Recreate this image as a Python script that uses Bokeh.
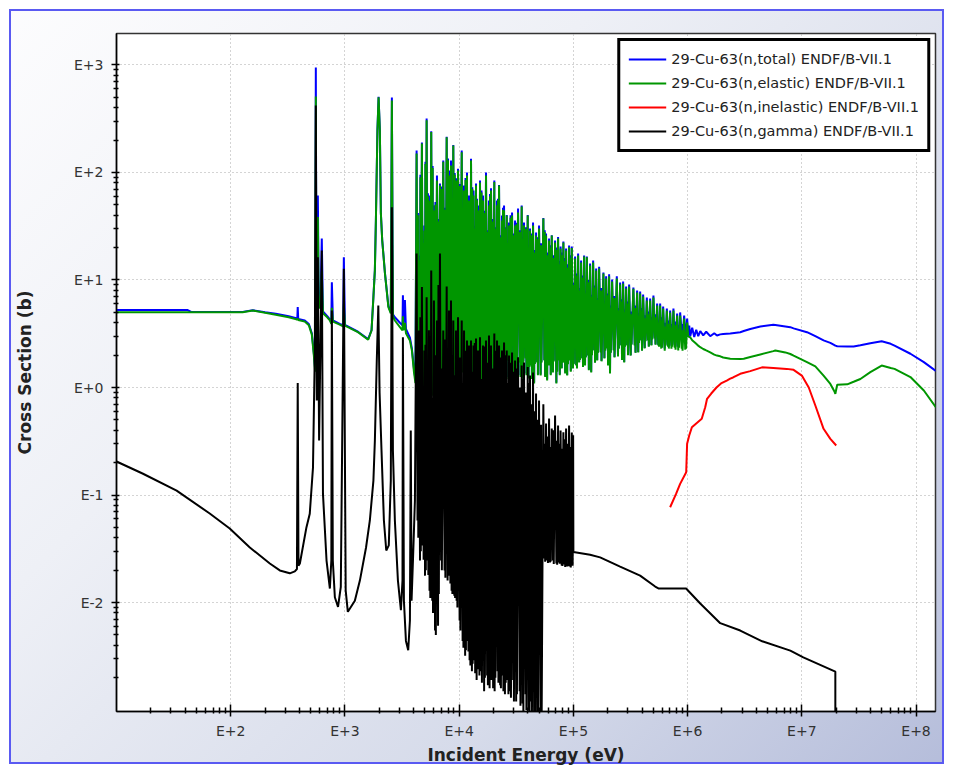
from bokeh.plotting import figure
from bokeh.models import FixedTicker, CustomJSTickFormatter, Legend, LegendItem, Range1d
from bokeh.embed import file_html
from bokeh.resources import INLINE

# ---------------- data (energies in eV, cross sections in barns) ----------------
# total / elastic : low energy part (10 eV - 4.1 keV)
te_low_E = [10, 42, 45, 127, 156, 200, 248, 322, 375, 383, 386, 390, 445, 483, 513,
            534, 548, 556, 562, 570, 579, 590, 610, 627, 642, 700, 738, 760, 768, 785,
            900, 965, 978, 1000, 1300, 1596, 1710, 1775, 1828, 1866, 1925, 1970, 2022, 2063, 2120,
            2240, 2400, 2520, 2576, 2630, 2736, 3028, 3190, 3217, 3250, 3350, 3420, 3705, 3858, 4018,
            4140]
el_low = [5.0, 5.0, 5.0, 5.0, 5.2, 4.95, 4.75, 4.5, 4.3, 4.3, 4.4, 4.25, 4.1, 3.8, 3.1,
          2.0, 1.4, 509, 8.0, 6.5, 38.5, 6.0, 5.4, 12, 4.9, 4.5, 4.2, 3.9, 5.5, 4.1,
          3.85, 3.7, 6.0, 3.77, 3.27, 2.78, 3.39, 6.9, 12.3, 35.7, 246, 499, 246, 41.6, 23.3,
          11.5, 5.6, 4.88, 468, 4.6, 4.2, 3.64, 3.4, 4.6, 3.4, 4.0, 3.2, 2.74, 2.2, 1.4,
          1.1]
tot_low = [5.25, 5.25, 5.05, 5.05, 5.22, 5.0, 4.85, 4.6, 4.4, 4.45, 5.6, 4.35, 4.2, 3.9, 3.2,
           2.1, 1.5, 948, 8.5, 7.0, 61, 6.4, 5.7, 24.3, 5.1, 4.6, 4.3, 4.0, 9.5, 4.2,
           3.9, 3.8, 16.3, 3.82, 3.3, 2.82, 3.42, 6.95, 12.4, 36, 248, 505, 248, 42, 23.5,
           11.6, 5.7, 5.0, 499, 4.8, 4.5, 4.0, 3.8, 7.2, 3.8, 6.5, 3.5, 2.9, 2.3, 1.5,
           1.2]

# resolved resonance grid (4.2 keV - 97 keV), shared by elastic, total and capture
# each row: resonance peak, valley, small resonance, valley
res_E = [4240, 4318, 4353, 4388,      4441, 4541, 4578, 4615,      4719, 4805, 4844, 4883,
         4963, 5024, 5065, 5106,      5190, 5285, 5328, 5371,      5437, 5503, 5547, 5591,
         5694, 5811, 5858, 5905,      6014, 6149, 6199, 6249,      6390, 6533, 6586, 6639,
         6790, 6943, 6999, 7055,      7257, 7452, 7512, 7572,      7775, 7918, 7982, 8046,
         8145, 8245, 8311, 8377,      8481, 8585, 8654, 8723,      8883, 9067, 9140, 9213,
         9384, 9497, 9574, 9651,      9770, 10090, 10170, 10250,   10530, 10720, 10810, 10900,
         11030, 11280, 11370, 11460,  11710, 11850, 11950, 12050,  12190, 12340, 12440, 12540,
         12700, 12930, 13030, 13130,  13350, 13590, 13700, 13810,  14040, 14220, 14330, 14440,
         14620, 14800, 14920, 15040,  15220, 15560, 15690, 15820,  16170, 16540, 16670, 16800,
         17180, 17570, 17710, 17850,  18250, 18470, 18620, 18770,  19000, 19510, 19670, 19830,
         20310, 20440, 20600, 20760,  21450, 21710, 21890, 22070,  22340, 22840, 23020, 23200,
         23730, 24020, 24210, 24400,  24710, 25160, 25360, 25560,  26090, 26580, 26790, 27000,
         27330, 27940, 28170, 28400,  29040, 29690, 29930, 30170,  30850, 31550, 31800, 32050,
         32770, 33860, 34130, 34400,  35270, 35920, 36210, 36500,  36950, 38170, 38480, 38790,
         39830, 40560, 40890, 41220,  41720, 42660, 43000, 43340,  44340, 45330, 45700, 46070,
         47110, 48160, 48550, 48940,  50040, 51690, 52110, 52530,  54580, 55690, 56140, 56590,
         57630, 58920, 59400, 59880,  61240, 62370, 62870, 63370,  64670, 66260, 66790, 67320,
         69120, 70970, 71540, 72110,  73440, 74790, 75390, 75990,  77240, 78970, 79610, 80250,
         81730, 83400, 84070, 84740,  86310, 88250, 88960, 89670,  91700, 93380, 94130, 94880,
         96850]
el_res = [150, 0.94, 40, 1.1,     15.2, 1.04, 90, 1.2,     186, 0.9, 22, 1.05,
          28.9, 1.16, 120, 1.0,   305, 0.98, 60, 1.2,      54.9, 1.29, 30, 1.1,
          238, 0.84, 110, 1.3,    44.3, 1.44, 50, 1.2,     84.3, 1.11, 35, 1.4,
          75.7, 1.26, 70, 1.15,   126, 1.38, 45, 1.25,     213, 1.6, 130, 1.3,
          93.8, 1.21, 60, 1.45,   116, 0.225, 35, 1.3,     178, 1.44, 95, 1.2,
          84.3, 1.29, 50, 1.5,    104, 1.5, 75, 1.25,      154, 1.38, 40, 1.6,
          68, 1.78, 85, 1.3,      93.8, 1.21, 30, 1.5,     54.9, 1.6, 45, 1.2,
          129, 1.16, 70, 1.55,    61.1, 1.71, 30, 1.25,    75.7, 1.16, 55, 1.6,
          44.3, 1.38, 38, 1.3,    80.7, 1.5, 65, 1.2,      54.9, 1.16, 42, 1.7,
          93.8, 1.78, 28, 1.35,   49.4, 1.29, 60, 1.5,     68, 1.6, 35, 1.2,
          81.5, 0.0085, 30, 1.4,  49.4, 1.44, 55, 1.25,    75.7, 1.38, 25, 1.7,
          35.7, 1.86, 45, 1.3,    44.3, 1.21, 30, 1.6,     39.8, 1.78, 22, 1.2,
          32.1, 1.04, 38, 1.8,    39.8, 1.98, 26, 1.3,     32.1, 1.29, 33, 1.6,
          42.4, 1.71, 28, 1.25,   48.3, 1.16, 24, 1.7,     32.1, 1.86, 30, 1.3,
          39.8, 1.21, 20, 1.55,   28.9, 1.6, 26, 1.2,      32.1, 1.09, 18, 1.65,
          25.9, 1.71, 24, 1.3,    30.1, 1.29, 21, 1.7,     37.3, 1.78, 28, 1.25,
          25.9, 1.16, 17, 1.6,    23.3, 1.6, 20, 1.3,      25.9, 1.38, 16, 1.75,
          22.3, 1.09, 19, 1.4,    24.3, 1.78, 14, 1.3,     19.6, 1.5, 17, 1.7,
          22.3, 1.71, 15, 1.35,   18.8, 1.29, 13, 1.65,    20.1, 1.78, 16, 1.4,
          19.8]
tot_res = [160, 1.0, 42, 1.15,    16.9, 1.1, 95, 1.25,     190, 0.95, 24, 1.1,
           32.1, 1.2, 126, 1.05,  318, 1.05, 64, 1.25,     61.1, 1.35, 32, 1.15,
           242, 0.9, 115, 1.35,   49.4, 1.5, 53, 1.25,     93.8, 1.2, 37, 1.45,
           79, 1.32, 74, 1.2,     129, 1.45, 47, 1.3,      215, 1.65, 135, 1.35,
           104, 1.3, 63, 1.5,     129, 0.24, 37, 1.35,     180, 1.5, 99, 1.25,
           88.1, 1.35, 53, 1.55,  108, 1.55, 78, 1.3,      160, 1.43, 42, 1.65,
           75.7, 1.84, 89, 1.35,  99.7, 1.27, 32, 1.55,    61.1, 1.65, 47, 1.25,
           134, 1.2, 73, 1.6,     68, 1.75, 32, 1.3,       79, 1.2, 57, 1.65,
           49.4, 1.42, 40, 1.35,  84.3, 1.55, 68, 1.25,    61.1, 1.2, 44, 1.75,
           99.7, 1.82, 29, 1.4,   54.9, 1.34, 63, 1.55,    71.1, 1.65, 37, 1.25,
           84.3, 0.009, 31, 1.45, 54.9, 1.5, 57, 1.3,      76.5, 1.42, 26, 1.75,
           39.8, 1.9, 47, 1.35,   49.4, 1.25, 31, 1.65,    40.2, 1.82, 23, 1.25,
           34.2, 1.08, 40, 1.85,  42.4, 2.02, 27, 1.35,    35.7, 1.33, 34, 1.65,
           46.3, 1.75, 29, 1.3,   49.4, 1.2, 25, 1.75,     34.2, 1.9, 31, 1.35,
           40.2, 1.25, 21, 1.6,   30.1, 1.63, 27, 1.25,    34.2, 1.12, 19, 1.7,
           27.7, 1.74, 25, 1.33,  32.1, 1.32, 22, 1.73,    37.6, 1.8, 29, 1.28,
           27.1, 1.19, 18, 1.63,  24.3, 1.62, 21, 1.33,    26.1, 1.4, 17, 1.78,
           23.3, 1.11, 20, 1.43,  25.1, 1.8, 15, 1.33,     20.5, 1.52, 18, 1.73,
           22.8, 1.73, 16, 1.38,  19.6, 1.31, 14, 1.68,    20.9, 1.8, 17, 1.43,
           20.5]
gam_res = [17.6, 0.058, 1.2, 0.04,      3.39, 0.0246, 4.5, 0.03,     8.6, 0.034, 0.9, 0.025,
           2.21, 0.0178, 2.5, 0.02,     6.9, 0.0246, 1.6, 0.018,     3.4, 0.0129, 3.0, 0.011,
           12.25, 0.0104, 0.8, 0.008,   6.44, 0.00549, 2.0, 0.005,   4.2, 0.0061, 9.0, 0.012,
           17.6, 0.0246, 1.5, 0.02,     3.39, 0.0199, 2.8, 0.017,    8.7, 0.016, 1.0, 0.018,
           5.2, 0.0178, 3.5, 0.015,     6.44, 0.0129, 2.0, 0.012,    4.2, 0.0116, 1.3, 0.011,
           3.39, 0.0104, 2.6, 0.009,    4.5, 0.0068, 1.9, 0.0055,    4.2, 0.0044, 1.1, 0.0038,
           3.39, 0.0032, 2.2, 0.0036,   2.74, 0.0044, 1.6, 0.0035,   2.46, 0.0029, 2.3, 0.0026,
           2.74, 0.0023, 1.4, 0.0027,   2.46, 0.0029, 2.6, 0.0022,   2.86, 0.0019, 1.8, 0.0024,
           2.21, 0.0026, 2.0, 0.0021,   2.93, 0.0023, 1.2, 0.0018,   2.46, 0.0015, 2.4, 0.002,
           2.74, 0.0021, 1.7, 0.0017,   3.05, 0.0016, 2.1, 0.0019,   2.46, 0.0019, 1.5, 0.0016,
           3.18, 0.0015, 2.2, 0.002,    2.74, 0.0023, 1.3, 0.0018,   2.46, 0.0017, 1.9, 0.0016,
           2.21, 0.0021, 1.6, 0.0015,   2.62, 0.0014, 2.0, 0.0018,   2.21, 0.0019, 1.1, 0.0014,
           1.98, 0.0015, 1.7, 0.0013,   2.12, 0.0019, 1.4, 0.0012,   1.78, 0.0012, 1.5, 0.0014,
           1.91, 0.0015, 1.0, 0.0011,   1.6, 0.00115, 1.2, 0.0009,   1.71, 0.0014, 0.9, 0.001,
           1.55, 0.00099, 1.1, 0.0008,  1.29, 0.0012, 0.7, 0.0007,   1.38, 0.0008, 0.6, 0.0006,
           0.879, 0.00085, 0.5, 0.0005, 0.757, 0.0005, 0.45, 0.0004, 0.70, 0.0257, 0.30, 0.024,
           0.463, 0.0246, 0.35, 0.0233, 0.515, 0.0236, 0.28, 0.0241, 0.415, 0.0246, 0.40, 0.0228,
           0.549, 0.0231, 0.32, 0.0225, 0.443, 0.0236, 0.30, 0.023,  0.398, 0.0221, 0.27, 0.0219,
           0.384, 0.0226, 0.33, 0.0214, 0.415, 0.0216, 0.30, 0.0218, 0.443, 0.0216, 0.28, 0.0212,
           0.381]

# unresolved part (100 keV - 1 MeV), elastic and total only
# each row: valley, small resonance, valley, resonance peak
ur_E = [99200, 100000, 100800, 103500,    105850, 106700, 107550, 110000,
        112390, 113300, 114210, 116800,   119440, 120400, 121360, 124100,
        126480, 127500, 128520, 131200,   134420, 135500, 136580, 140100,
        143240, 144400, 145560, 148900,   152270, 153500, 154730, 158200,
        161700, 163000, 164300, 168000,   173500, 174900, 176300, 183200,
        187000, 188500, 190000, 193500,   197800, 199400, 201000, 205500,
        209300, 211000, 212700, 218300,   225500, 227300, 229100, 240000,
        245800, 247800, 249800, 256500,   262300, 264400, 266500, 272500,
        278600, 280800, 283000, 289400,   295900, 298300, 300700, 307500,
        317500, 320100, 322700, 335200,   344300, 347100, 349900, 361400,
        369500, 372500, 375500, 384000,   392600, 395800, 399000, 407900,
        421300, 424700, 428100, 439500,   450200, 453800, 457400, 469800,
        482300, 486200, 490100, 502100,   515400, 519600, 523800, 541000,
        553100, 557600, 562100, 574700,   587600, 592300, 597000, 610600,
        630600, 635700, 640800, 658000,   674100, 679500, 684900, 703100,
        721900, 727700, 733500, 751500,   771500, 777700, 783900, 809700,
        827900, 834600, 841300, 860300,   888500, 895700, 902900, 932600,
        953500, 961200, 968900, 990800]
el_ur = [1.5, 9.0, 1.65, 15.8,     1.6, 11.0, 1.5, 16.9,
         1.71, 8.0, 1.8, 14.5,     1.86, 10.5, 1.55, 16.5,
         1.6, 7.5, 1.9, 16.3,      1.98, 9.5, 1.45, 13.6,
         1.38, 7.0, 2.0, 14.5,     2.21, 8.5, 1.7, 12.25,
         1.78, 6.5, 2.1, 12.8,     2.12, 8.0, 1.75, 11.5,
         1.86, 6.0, 2.2, 10.3,     2.31, 7.2, 1.6, 10.8,
         1.35, 5.5, 2.1, 9.68,     2.21, 6.8, 1.9, 10.3,
         1.94, 5.2, 2.3, 9.07,     2.46, 6.3, 1.8, 9.27,
         1.71, 5.0, 2.4, 8.33,     2.46, 6.0, 2.0, 8.7,
         1.98, 4.8, 2.5, 8.27,     2.46, 5.5, 2.1, 7.64,
         2.12, 4.6, 2.6, 7.48,     2.74, 5.2, 2.2, 7.02,
         2.31, 4.4, 2.7, 6.44,     2.74, 4.8, 2.4, 6.44,
         2.46, 4.2, 2.8, 6.87,     2.86, 4.5, 2.5, 5.79,
         2.46, 3.9, 2.4, 5.79,     2.3, 4.2, 2.35, 5.43,
         2.2, 3.7, 2.45, 5.2,      2.4, 3.9, 2.3, 4.99,
         2.3, 3.6, 2.4, 5.2,       2.35, 3.8, 2.25, 4.67,
         2.21, 3.5, 2.35, 4.67,    2.3, 3.4, 2.2, 4.38,
         2.25, 3.3, 2.3, 4.02]
tot_ur = [1.52, 9.4, 1.67, 16.5,   1.62, 11.5, 1.52, 17.6,
          1.73, 8.4, 1.82, 15.2,   1.88, 11.0, 1.57, 16.9,
          1.62, 7.9, 1.92, 16.5,   2.0, 10.0, 1.47, 14.2,
          1.4, 7.3, 2.02, 15.2,    2.23, 8.9, 1.72, 12.8,
          1.8, 6.8, 2.12, 13.3,    2.14, 8.4, 1.77, 11.75,
          1.88, 6.3, 2.22, 10.8,   2.33, 7.5, 1.62, 11.3,
          1.37, 5.8, 2.12, 10.1,   2.23, 7.1, 1.92, 10.8,
          1.96, 5.5, 2.32, 9.47,   2.48, 6.6, 1.82, 9.68,
          1.73, 5.3, 2.42, 8.7,    2.48, 6.3, 2.02, 9.07,
          2.0, 5.1, 2.52, 8.5,     2.48, 5.8, 2.12, 7.98,
          2.14, 4.9, 2.62, 7.8,    2.76, 5.5, 2.22, 7.32,
          2.33, 4.7, 2.72, 6.87,   2.76, 5.1, 2.42, 6.72,
          2.48, 4.5, 2.82, 7.17,   2.9, 4.8, 2.52, 6.04,
          2.5, 4.2, 2.45, 6.04,    2.4, 4.5, 2.4, 5.66,
          2.3, 4.0, 2.5, 5.43,     2.5, 4.2, 2.4, 5.2,
          2.45, 3.9, 2.5, 5.43,    2.5, 4.1, 2.4, 4.88,
          2.4, 3.8, 2.6, 4.99,     3.1, 3.9, 2.9, 4.67,
          3.3, 3.8, 3.1, 4.38]

# fast region (1 MeV - 150 MeV)
fast_E = [1.012e6, 1.033e6, 1.054e6, 1.097e6, 1.143e6, 1.190e6, 1.239e6, 1.290e6, 1.370e6, 1.455e6,
          1.578e6, 1.711e6, 1.807e6, 1.931e6, 2.05e6, 2.362e6, 2.89e6, 3.1e6, 3.537e6, 4.33e6,
          5.63e6, 5.86e6, 7.17e6, 7.93e6, 8.47e6, 1.11e7, 1.313e7, 1.55e7, 1.777e7, 1.93e7,
          1.965e7, 2.04e7, 2.5e7, 2.84e7, 3.256e7, 3.98e7, 5.0e7, 6.0e7, 6.48e7, 8.93e7,
          1.17e8, 1.5e8]
el_fast = [3.0, 2.95, 2.93, 2.75, 2.65, 2.55, 2.45, 2.37, 2.28, 2.21,
           2.12, 2.02, 1.98, 1.95, 1.9, 1.85, 1.84, 1.85, 1.92, 2.03,
           2.18, 2.21, 2.12, 2.05, 1.98, 1.72, 1.57, 1.29, 1.08, 0.918,
           0.874, 1.06, 1.07, 1.13, 1.20, 1.39, 1.60, 1.52, 1.49, 1.25,
           0.938, 0.65]
tot_fast = [3.05, 3.77, 3.0, 3.6, 2.95, 3.45, 3.0, 3.35, 3.05, 3.3,
            3.0, 3.2, 3.05, 3.12, 3.15, 3.18, 3.27, 3.35, 3.5, 3.69,
            3.83, 3.82, 3.7, 3.64, 3.55, 3.27, 3.0, 2.74, 2.6, 2.48,
            2.45, 2.42, 2.41, 2.41, 2.47, 2.58, 2.69, 2.55, 2.45, 2.06,
            1.72, 1.42]

# capture (n,gamma): below and above the shared resonance grid
gam_low_E = [10, 16.9, 33.6, 65.5, 98, 147, 220, 269, 329, 364,
             380, 386, 392, 403, 460, 492, 525, 545, 556, 567,
             579, 594, 627, 642, 690, 738, 760, 768, 783, 816,
             870, 920, 978, 1015, 1060, 1221, 1351, 1530, 1652, 1775,
             1828, 1900, 1960, 2010, 2090, 2193, 2300, 2420, 2520, 2576,
             2630, 2736, 2910, 3090, 3190, 3217, 3283, 3420, 3580, 3705,
             3770, 3830, 3940, 4099]
gam_low = [0.205, 0.1585, 0.110, 0.0673, 0.0488, 0.0325, 0.0231, 0.0199, 0.0187, 0.0195,
           0.0205, 1.1, 0.022, 0.0231, 0.050, 0.067, 0.18, 2.21, 420, 0.757,
           16.3, 0.321, 18.8, 0.103, 0.0246, 0.0135, 0.0246, 5.2, 0.0246, 0.0112,
           0.0091, 0.014, 12.7, 0.013, 0.0082, 0.0104, 0.016, 0.0325, 0.058, 0.136,
           0.32, 1.78, 5.79, 0.9, 0.259, 0.058, 0.0305, 0.034, 0.136, 47.5,
           0.26, 0.058, 0.016, 0.0085, 0.016, 2.94, 0.0104, 0.0044, 0.0036, 0.0068,
           0.398, 0.0104, 0.0246, 0.0889]
gam_high_E = [98500, 99500, 100000, 140000, 171400, 256500, 384000, 520000, 560000, 970000,
              1.29e6, 1.93e6, 2.89e6, 4.5e6, 7.93e6, 1.03e7, 1.965e7, 1.966e7]
gam_high = [0.022, 0.36, 0.0295, 0.0278, 0.0263, 0.0216, 0.0178, 0.0141, 0.0135, 0.0135,
            0.0098, 0.00643, 0.00549, 0.00436, 0.00357, 0.00309, 0.00228, 1e-6]

# inelastic
inel_E = [7.03e5, 7.94e5, 8.6e5, 9.72e5, 9.9e5, 1.033e6, 1.09e6, 1.19e6, 1.33e6, 1.426e6,
          1.48e6, 1.61e6, 1.79e6, 1.96e6, 2.2e6, 2.36e6, 2.5e6, 2.89e6, 3.537e6, 4.48e6,
          5.63e6, 7.37e6, 8.47e6, 1.0e7, 1.15e7, 1.313e7, 1.55e7, 1.777e7, 2.0e7]
inel_xs = [0.077, 0.103, 0.127, 0.163, 0.30, 0.358, 0.427, 0.463, 0.512, 0.656,
           0.785, 0.879, 1.0, 1.09, 1.16, 1.21, 1.24, 1.34, 1.42, 1.54,
           1.52, 1.49, 1.46, 1.29, 1.0, 0.68, 0.413, 0.333, 0.289]

x_major = [1e2, 1e3, 1e4, 1e5, 1e6, 1e7, 1e8]
y_major = [1e-2, 1e-1, 1e0, 1e1, 1e2, 1e3]

labels = ["29-Cu-63(n,total) ENDF/B-VII.1", "29-Cu-63(n,elastic) ENDF/B-VII.1",
          "29-Cu-63(n,inelastic) ENDF/B-VII.1", "29-Cu-63(n,gamma) ENDF/B-VII.1"]
colors = ["#0000ff", "#009600", "#ff0000", "#000000"]

# ---------------- assemble series ----------------
total_E = te_low_E + res_E + ur_E + fast_E
total_xs = tot_low + tot_res + tot_ur + tot_fast
elastic_E = te_low_E + res_E + ur_E + fast_E
elastic_xs = el_low + el_res + el_ur + el_fast
gamma_E = gam_low_E + res_E + gam_high_E
gamma_xs = gam_low + gam_res + gam_high

x_minor = [m * 10 ** d for d in range(1, 9) for m in range(2, 10) if m * 10 ** d < 1.48e8]
y_minor = [m * 10.0 ** d for d in range(-3, 4) for m in range(2, 10) if 9.7e-4 < m * 10.0 ** d < 1960]

p = figure(width=953, height=773, x_axis_type="log", y_axis_type="log",
           x_range=Range1d(10.0, 1.48e8), y_range=Range1d(9.7e-4, 1960),
           output_backend="svg", toolbar_location=None,
           min_border_left=116, min_border_right=18, min_border_top=33, min_border_bottom=62)

p.border_fill_color = None
p.background_fill_color = "white"
p.styles = {
    "background": "linear-gradient(135deg, #fdfdfe 0%, #eef0f6 35%, #d6dbea 70%, #b4bcda 100%)",
    "box-shadow": "inset 0 0 0 9px #ffffff, inset 0 0 0 11px #5a5af2",
}
p.outline_line_color = "#333333"
p.outline_line_width = 1.5

fmt = CustomJSTickFormatter(code="""
const e = Math.round(Math.log10(tick));
return 'E' + (e >= 0 ? '+' : '') + e;
""")

for ax, ticks, minor in ((p.xaxis[0], x_major, x_minor), (p.yaxis[0], y_major, y_minor)):
    ax.ticker = FixedTicker(ticks=ticks, minor_ticks=minor)
    ax.formatter = fmt
    ax.axis_line_color = "black"
    ax.axis_line_width = 1.5
    ax.major_tick_line_color = "black"
    ax.minor_tick_line_color = "black"
    ax.major_tick_line_width = 1.5
    ax.minor_tick_line_width = 1.5
    ax.major_label_text_font = "DejaVu Sans"
    ax.major_label_text_font_size = "14px"
    ax.major_label_text_color = "#333333"
    ax.axis_label_text_font = "DejaVu Sans"
    ax.axis_label_text_font_size = "17px"
    ax.axis_label_text_font_style = "bold"
    ax.axis_label_text_color = "#222222"

p.xaxis.axis_label = "Incident Energy (eV)"
p.yaxis.axis_label = "Cross Section (b)"
p.xaxis.major_tick_in = 7
p.xaxis.major_tick_out = 5
p.xaxis.minor_tick_in = 4
p.xaxis.minor_tick_out = 2
p.xaxis.major_label_standoff = 6
p.xaxis.axis_label_standoff = 3
p.yaxis.major_tick_in = 3
p.yaxis.major_tick_out = 5
p.yaxis.minor_tick_in = 2
p.yaxis.minor_tick_out = 3
p.yaxis.major_label_standoff = 8
p.yaxis.axis_label_standoff = 36

for g in (p.xgrid[0], p.ygrid[0]):
    g.grid_line_color = "#a8a8a8"
    g.grid_line_dash = "1 3"
    g.grid_line_width = 1

r_tot = p.line(total_E, total_xs, line_color=colors[0], line_width=2)
r_el = p.line(elastic_E, elastic_xs, line_color=colors[1], line_width=2)
r_in = p.line(inel_E, inel_xs, line_color=colors[2], line_width=2)
r_g = p.line(gamma_E, gamma_xs, line_color=colors[3], line_width=2)

legend = Legend(items=[LegendItem(label=labels[i], renderers=[r])
                       for i, r in enumerate([r_tot, r_el, r_in, r_g])],
                location="top_right", margin=5, padding=8, spacing=4,
                glyph_width=38, glyph_height=20, label_height=20, label_standoff=5,
                label_text_font="DejaVu Sans", label_text_font_size="14.5px",
                label_text_color="#222222",
                border_line_color="black", border_line_width=3, border_line_alpha=1.0,
                background_fill_color="white", background_fill_alpha=1)
p.add_layout(legend)

open("out.html", "w").write(file_html(p, INLINE))
